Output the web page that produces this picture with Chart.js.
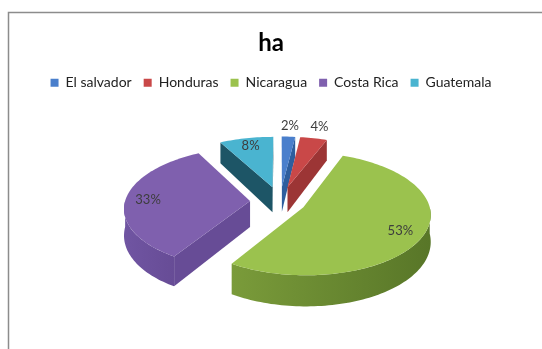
<!DOCTYPE html>
<html>
<head>
<meta charset="utf-8">
<script src="https://cdn.jsdelivr.net/npm/chart.js@4.4.0/dist/chart.umd.min.js"></script>
<style>
  html, body { margin: 0; padding: 0; background: #fff; }
  canvas { display: block; }
</style>
</head>
<body>
<canvas id="c" width="542" height="349"></canvas>
<script>
// Data: hectares share by country
const categories = ['El salvador', 'Honduras', 'Nicaragua', 'Costa Rica', 'Guatemala'];
const shares = [2, 4, 53, 33, 8];
// how far each slice is pulled out from the centre (px)
const explode = [31, 31, 26, 30, 31];

const topColors  = ['#4A7FCC', '#C94848', '#9BC24E', '#7F60AE', '#4AB4D0'];
const sideColors = ['#3A6DB5', '#A83A3A', '#7A9B3A', '#7055A2', '#2A7F96'];
const darkColors = ['#2E5E9E', '#9C3535', '#587628', '#674C96', '#1D5566'];

const FONT = 'Lato, "Open Sans", sans-serif';
const GUTTER = 18; // empty strip on the left of the plot area

// Spacer box: narrows the plot area on the left only, title/legend keep full width.
const leftGutter = {
  id: 'leftGutter',
  beforeInit(chart) {
    Chart.layouts.addBox(chart, {
      position: 'left',
      weight: 0,
      fullSize: false,
      options: {},
      width: 0,
      height: 0,
      isHorizontal() { return false; },
      update(maxW, maxH) { this.width = GUTTER; this.height = maxH; return { width: GUTTER, height: maxH }; },
      draw() {}
    });
  }
};

// Draws a tilted, extruded pie from the arc geometry Chart.js computes.
const pie3d = {
  id: 'pie3d',
  beforeDraw(chart) {
    const ctx = chart.ctx;
    ctx.save();
    ctx.fillStyle = '#fff';
    ctx.fillRect(0, 0, chart.width, chart.height);
    ctx.strokeStyle = '#8c8c8c';
    ctx.lineWidth = 1.5;
    ctx.strokeRect(8.5, 12.5, chart.width + 20, chart.height + 20);
    ctx.restore();
  },
  beforeDatasetsDraw(chart) {
    const ctx = chart.ctx;
    const meta = chart.getDatasetMeta(0);
    const arcs = meta.data;
    const values = chart.data.datasets[0].data;
    const total = values.reduce((a, b) => a + b, 0);
    const R = arcs[0].outerRadius;
    const K = 0.482;  // vertical squash of the tilted disc
    const P = 0.11;   // perspective: front larger than back
    const H = 26;     // extrusion depth
    const Q = 0.18;   // depth perspective

    const proj = (cx, cy, wx, wy, h) => {
      const v = wy / R, s = 1 + P * v;
      return [cx + wx * s, cy + wy * K * s + h * H * (1 + Q * v)];
    };

    const slices = arcs.map((a, i) => {
      const s = a.startAngle, e = a.endAngle;
      const mid = (s + e) / 2;
      const off = a.options.offset || 0;
      const ox = Math.cos(mid) * off, oy = Math.sin(mid) * off;
      const rim = (t, h, rr = R) => proj(a.x, a.y, ox + rr * Math.cos(t), oy + rr * Math.sin(t), h);
      const apex = (h) => proj(a.x, a.y, ox, oy, h);
      return { i, a, s, e, mid, ox, oy, rim, apex, depth: apex(0)[1] };
    });

    const poly = (pts, fill) => {
      ctx.beginPath();
      pts.forEach((p, j) => j ? ctx.lineTo(p[0], p[1]) : ctx.moveTo(p[0], p[1]));
      ctx.closePath();
      ctx.fillStyle = fill;
      ctx.fill();
    };
    const arcPts = (rim, from, to, h) => {
      const n = Math.max(2, Math.ceil(Math.abs(to - from) / (Math.PI / 120)));
      const out = [];
      for (let j = 0; j <= n; j++) out.push(rim(from + (to - from) * j / n, h));
      return out;
    };

    ctx.save();
    slices.slice().sort((p, q) => p.depth - q.depth).forEach(sl => {
      const { i, s, e, rim, apex } = sl;
      // radial walls facing the viewer
      if (Math.cos(s) < 0) poly([apex(0), rim(s, 0), rim(s, 1), apex(1)], darkColors[i]);
      if (Math.cos(e) > 0) poly([apex(0), rim(e, 0), rim(e, 1), apex(1)], darkColors[i]);
      // outer wall on the front half
      const lo = Math.max(s, 0), hi = Math.min(e, Math.PI);
      if (hi > lo) {
        const topEdge = arcPts(rim, lo, hi, 0);
        const botEdge = arcPts(rim, hi, lo, 1);
        const xs = topEdge.map(p => p[0]);
        const g = ctx.createLinearGradient(Math.max(...xs), 0, Math.min(...xs), 0);
        g.addColorStop(0, darkColors[i]);
        g.addColorStop(1, sideColors[i]);
        poly(topEdge.concat(botEdge), g);
      }
      // top face
      poly([apex(0)].concat(arcPts(rim, s, e, 0)), topColors[i]);
    });

    // percentage labels
    ctx.font = '13px ' + FONT;
    ctx.fillStyle = '#3d3d3d';
    ctx.textAlign = 'center';
    ctx.textBaseline = 'middle';
    slices.forEach(sl => {
      const pct = Math.round(values[sl.i] / total * 100);
      const rr = pct < 5 ? 1.27 * R : 0.82 * R;
      const p = sl.rim(sl.mid, 0, rr);
      ctx.fillText(pct + '%', p[0], p[1]);
    });
    ctx.restore();
    return false;
  }
};

new Chart(document.getElementById('c'), {
  type: 'pie',
  data: {
    labels: categories,
    datasets: [{
      data: shares,
      backgroundColor: topColors,
      borderWidth: 0,
      offset: explode,
      radius: 125
    }]
  },
  options: {
    responsive: false,
    animation: false,
    events: [],
    layout: { padding: { left: 0, right: 0, top: 0, bottom: 46 } },
    plugins: {
      title: {
        display: true,
        text: 'ha',
        color: '#000',
        font: { family: FONT, size: 24, weight: 'bold' },
        padding: { top: 29, bottom: 6 }
      },
      legend: {
        position: 'top',
        labels: {
          boxWidth: 8,
          boxHeight: 8,
          padding: 12,
          color: '#222',
          font: { family: FONT, size: 14 }
        }
      },
      tooltip: { enabled: false }
    }
  },
  plugins: [leftGutter, pie3d]
});
</script>
</body>
</html>
